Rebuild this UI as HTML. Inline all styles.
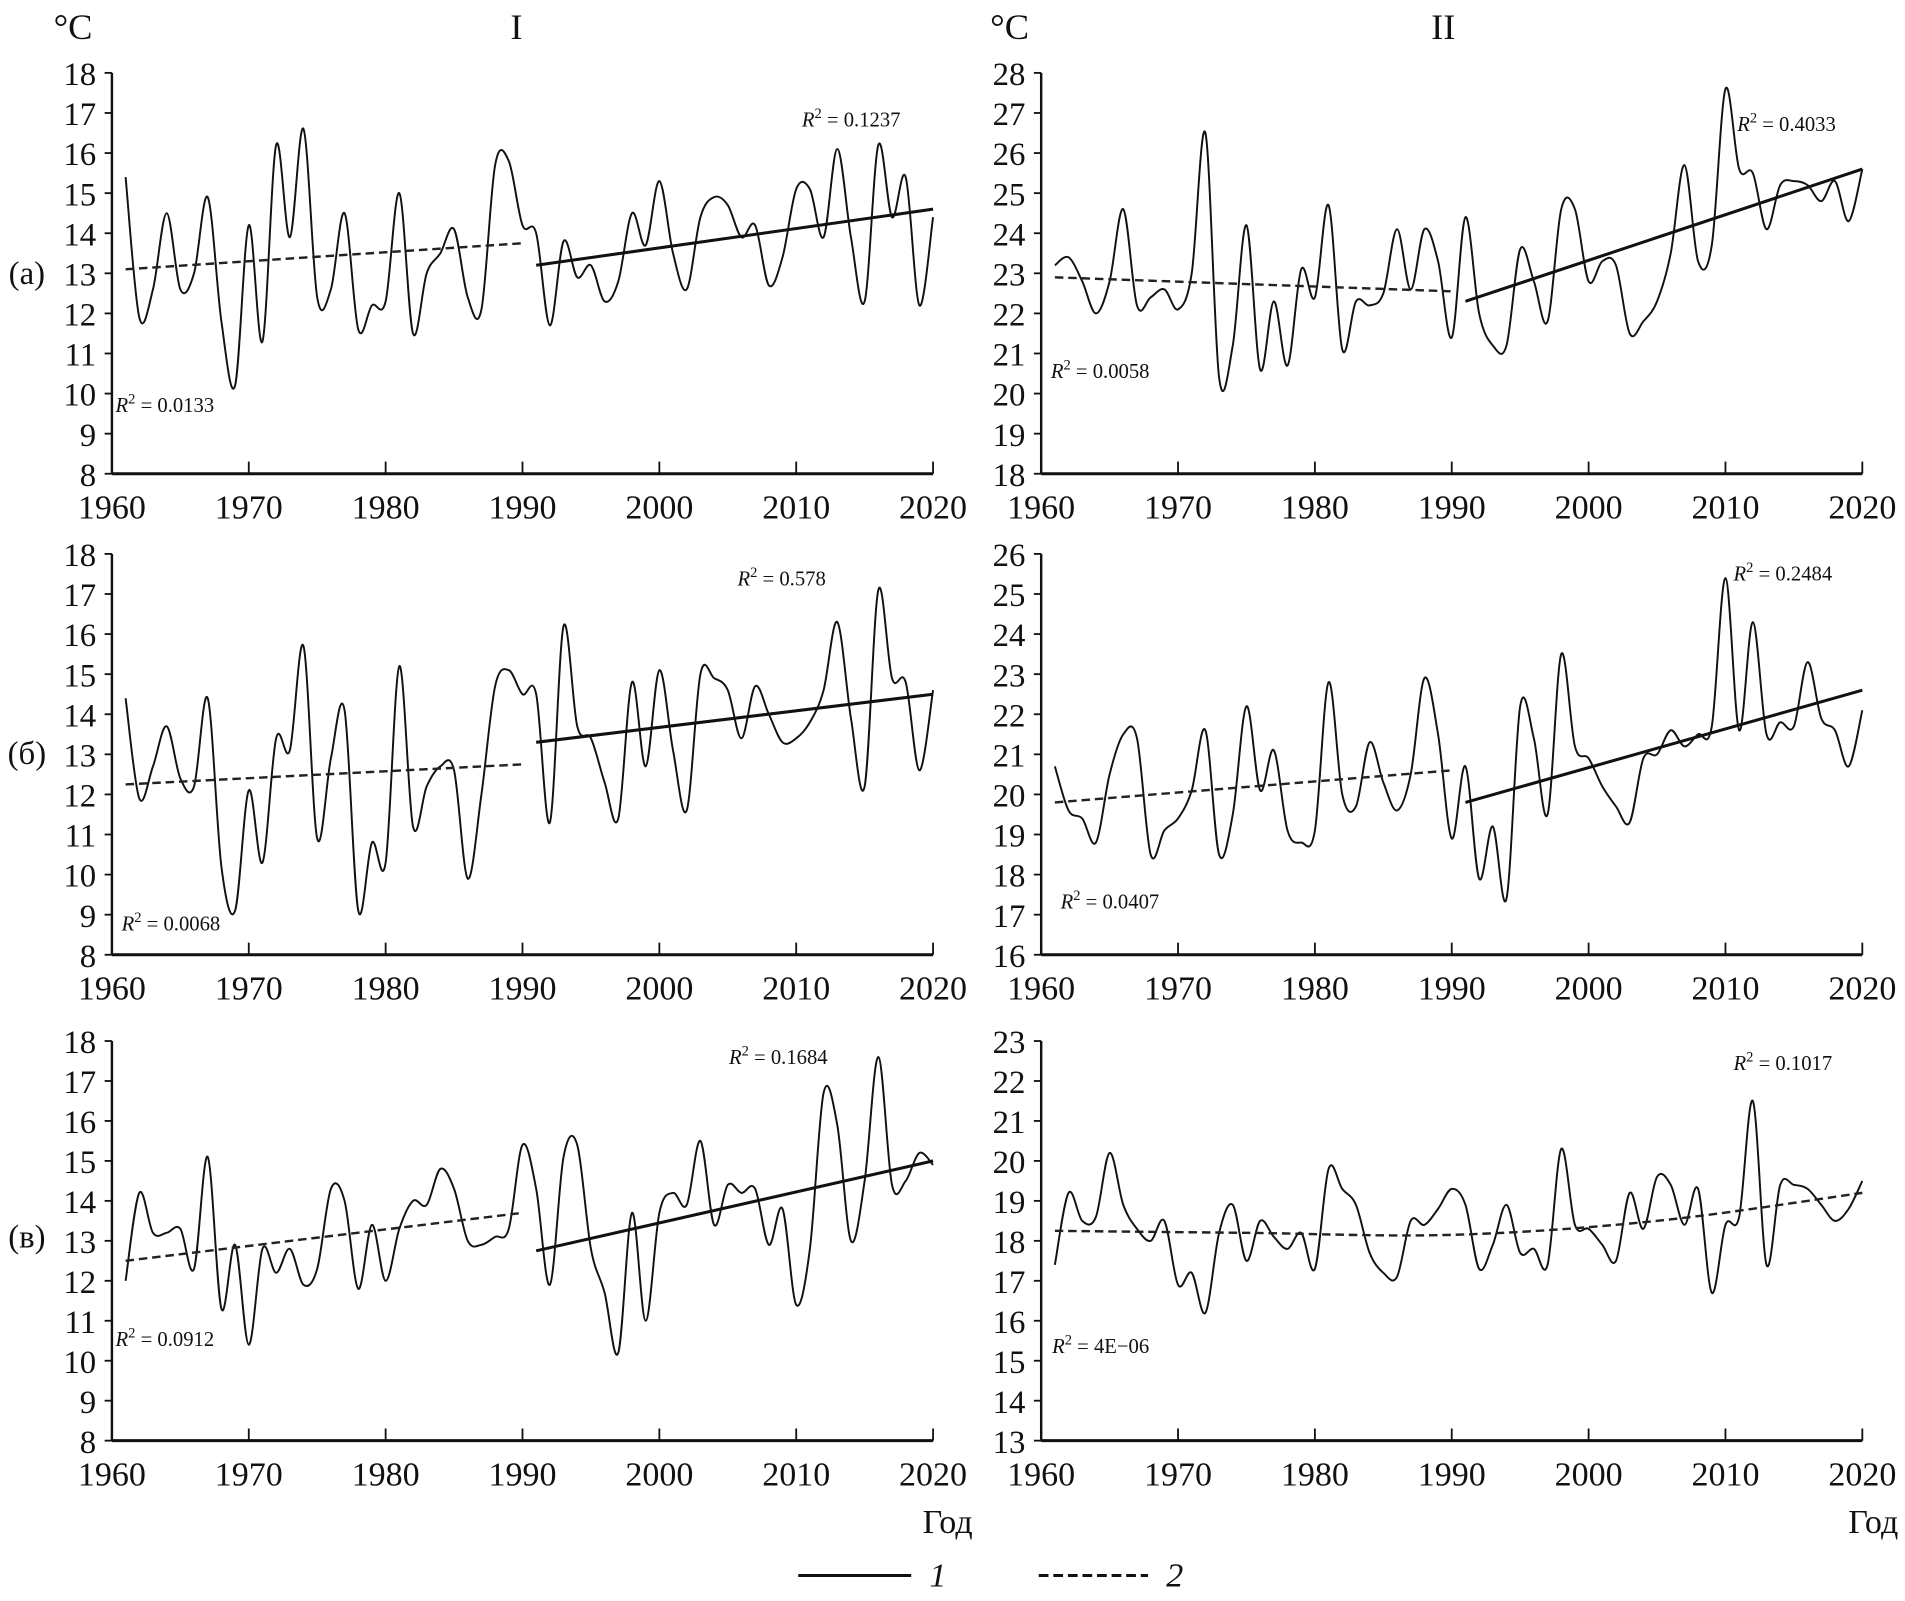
<!DOCTYPE html>
<html><head><meta charset="utf-8"><style>
html,body{margin:0;padding:0;background:#fff}
svg{display:block}
text{font-family:"Liberation Serif",serif;fill:#111}
</style></head><body>
<svg id="chart" width="1905" height="1601" viewBox="0 0 1568 1318" xmlns="http://www.w3.org/2000/svg"></svg>
<script>
const years = [];
for (let y = 1961; y <= 2020; y++) years.push(y);
const xTicks = [1960,1970,1980,1990,2000,2010,2020];

const seriesIa = [15.4,11.9,12.6,14.5,12.6,13.0,14.9,11.8,10.2,14.2,11.3,16.2,13.9,16.6,12.4,12.6,14.5,11.6,12.2,12.3,15.0,11.5,13.0,13.5,14.1,12.4,12.1,15.7,15.8,14.2,14.0,11.7,13.8,12.9,13.2,12.3,12.8,14.5,13.7,15.3,13.5,12.6,14.4,14.9,14.7,13.9,14.2,12.7,13.4,15.1,15.1,13.9,16.1,13.9,12.3,16.2,14.4,15.4,12.2,14.4];
const seriesIIa = [23.2,23.4,22.8,22.0,22.8,24.6,22.2,22.4,22.6,22.1,23.0,26.5,20.4,21.2,24.2,20.6,22.3,20.7,23.1,22.4,24.7,21.1,22.3,22.2,22.5,24.1,22.6,24.1,23.3,21.4,24.4,22.0,21.2,21.2,23.6,22.8,21.8,24.6,24.6,22.8,23.3,23.2,21.5,21.8,22.3,23.5,25.7,23.3,23.7,27.6,25.6,25.5,24.1,25.2,25.3,25.2,24.8,25.3,24.3,25.6];
const seriesIb = [14.4,11.9,12.7,13.7,12.4,12.2,14.4,10.2,9.1,12.1,10.3,13.4,13.1,15.7,10.9,12.9,14.1,9.1,10.8,10.3,15.2,11.2,12.2,12.7,12.6,9.9,12.0,14.7,15.1,14.5,14.5,11.3,16.2,13.7,13.4,12.3,11.4,14.8,12.7,15.1,13.1,11.6,15.0,14.9,14.6,13.4,14.7,14.0,13.3,13.4,13.8,14.6,16.3,13.9,12.2,17.1,14.9,14.8,12.6,14.6];
const seriesIIb = [20.7,19.6,19.4,18.8,20.5,21.5,21.4,18.5,19.1,19.4,20.1,21.6,18.5,19.5,22.2,20.1,21.1,19.1,18.8,19.1,22.8,20.0,19.7,21.3,20.3,19.6,20.5,22.9,21.5,18.9,20.7,17.9,19.2,17.4,22.2,21.4,19.5,23.5,21.2,20.9,20.2,19.7,19.3,20.9,21.0,21.6,21.2,21.5,21.7,25.4,21.6,24.3,21.5,21.8,21.7,23.3,21.9,21.6,20.7,22.1];
const seriesIv = [12.0,14.2,13.2,13.2,13.3,12.3,15.1,11.3,12.9,10.4,12.8,12.2,12.8,11.9,12.3,14.3,14.0,11.8,13.4,12.0,13.3,14.0,13.9,14.8,14.3,13.0,12.9,13.1,13.3,15.4,14.3,11.9,15.1,15.4,12.8,11.7,10.2,13.7,11.0,13.7,14.2,13.9,15.5,13.4,14.4,14.2,14.3,12.9,13.8,11.4,12.8,16.7,15.9,13.0,14.5,17.6,14.4,14.5,15.2,14.9];
const seriesIIv = [17.4,19.2,18.5,18.6,20.2,18.9,18.3,18.0,18.5,16.9,17.2,16.2,18.2,18.9,17.5,18.5,18.1,17.8,18.2,17.3,19.8,19.3,18.9,17.7,17.2,17.1,18.5,18.4,18.8,19.3,18.9,17.3,17.9,18.9,17.7,17.8,17.4,20.3,18.4,18.3,17.9,17.5,19.2,18.3,19.6,19.4,18.4,19.3,16.7,18.4,18.6,21.5,17.4,19.4,19.4,19.3,18.9,18.5,18.8,19.5];

const trendIaDash = [[1961,13.1],[1990,13.75]];
const trendIaSolid = [[1991,13.2],[2020,14.6]];
const trendIIaDash = [[1961,22.9],[1990,22.55]];
const trendIIaSolid = [[1991,22.3],[2020,25.6]];
const trendIbDash = [[1961,12.25],[1990,12.75]];
const trendIbSolid = [[1991,13.3],[2020,14.5]];
const trendIIbDash = [[1961,19.8],[1990,20.6]];
const trendIIbSolid = [[1991,19.8],[2020,22.6]];
const trendIvDash = [[1961,12.5],[1990,13.7]];
const trendIvSolid = [[1991,12.75],[2020,15.0]];
const trendIIvDash = [[1961,18.25],[1975,18.2],[1990,18.15],[2005,18.5],[2020,19.2]];

const panels = [
 {id:'Ia', x0:92, x1:768, yTop:60, yBot:390, vmin:8, vmax:18, s:seriesIa, dash:trendIaDash, solid:trendIaSolid, r1:['0.0133',95,333], r2:['0.1237',660,98]},
 {id:'IIa', x0:857, x1:1533, yTop:60, yBot:390, vmin:18, vmax:28, s:seriesIIa, dash:trendIIaDash, solid:trendIIaSolid, r1:['0.0058',865,305], r2:['0.4033',1430,102]},
 {id:'Ib', x0:92, x1:768, yTop:456, yBot:786, vmin:8, vmax:18, s:seriesIb, dash:trendIbDash, solid:trendIbSolid, r1:['0.0068',100,760], r2:['0.578',607,476]},
 {id:'IIb', x0:857, x1:1533, yTop:456, yBot:786, vmin:16, vmax:26, s:seriesIIb, dash:trendIIbDash, solid:trendIIbSolid, r1:['0.0407',873,742], r2:['0.2484',1427,472]},
 {id:'Iv', x0:92, x1:768, yTop:857, yBot:1186, vmin:8, vmax:18, s:seriesIv, dash:trendIvDash, solid:trendIvSolid, r1:['0.0912',95,1102], r2:['0.1684',600,870]},
 {id:'IIv', x0:857, x1:1533, yTop:857, yBot:1186, vmin:13, vmax:23, s:seriesIIv, dash:trendIIvDash, solid:null, r1:['4E\u221206',866,1108], r2:['0.1017',1427,875]}
];

const svg = document.getElementById('chart');
const NS = 'http://www.w3.org/2000/svg';
function mk(tag, attrs, parent){ const e=document.createElementNS(NS,tag); for(const k in attrs) e.setAttribute(k,attrs[k]); (parent||svg).appendChild(e); return e; }
function txt(str, attrs, parent){ const e=mk('text',attrs,parent); e.textContent=str; return e; }

function spline(pts){
  let d='M'+pts[0][0].toFixed(2)+','+pts[0][1].toFixed(2);
  for(let i=0;i<pts.length-1;i++){
    const p0=pts[i-1]||pts[i], p1=pts[i], p2=pts[i+1], p3=pts[i+2]||p2;
    const c1=[p1[0]+(p2[0]-p0[0])/6, p1[1]+(p2[1]-p0[1])/6];
    const c2=[p2[0]-(p3[0]-p1[0])/6, p2[1]-(p3[1]-p1[1])/6];
    d+=' C'+c1[0].toFixed(2)+','+c1[1].toFixed(2)+' '+c2[0].toFixed(2)+','+c2[1].toFixed(2)+' '+p2[0].toFixed(2)+','+p2[1].toFixed(2);
  }
  return d;
}

panels.forEach(p=>{
  const g = mk('g',{});
  
  
  const X = yr => p.x0 + (yr-1960)/60*(p.x1-p.x0);
  const Y = v => p.yBot - (v-p.vmin)/(p.vmax-p.vmin)*(p.yBot-p.yTop);
  const ya = mk('line',{x1:p.x0,y1:p.yTop,x2:p.x0,y2:p.yBot,stroke:'#111','stroke-width':2},g);
  
  
  const xa = mk('line',{x1:p.x0,y1:p.yBot,x2:p.x1,y2:p.yBot,stroke:'#111','stroke-width':2.5},g);
  
  
  for(let v=p.vmin; v<=p.vmax; v++){
    mk('line',{x1:p.x0-6,y1:Y(v),x2:p.x0,y2:Y(v),stroke:'#111','stroke-width':1.5},g);
    const t = txt(String(v),{x:p.x0-13,y:Y(v)+10,'font-size':27,'text-anchor':'end'},g);
    
    
  }
  xTicks.forEach(yr=>{
    mk('line',{x1:X(yr),y1:p.yBot,x2:X(yr),y2:p.yBot-10,stroke:'#111','stroke-width':1.5},g);
    const t = txt(String(yr),{x:X(yr),y:p.yBot+37,'font-size':28,'text-anchor':'middle'},g);
    
    
  });
  const pts = p.s.map((v,i)=>[X(years[i]),Y(v)]);
  const ln = mk('path',{d:spline(pts),fill:'none',stroke:'#111','stroke-width':1.6},g);
  
  
  const dp = p.dash.map(q=>[X(q[0]),Y(q[1])]);
  const dl = mk('path',{d:p.dash.length>2?spline(dp):'M'+dp[0]+' L'+dp[1],fill:'none',stroke:'#222','stroke-width':2,'stroke-dasharray':'7,4'},g);
  
  
  if(p.solid){
    const sp = p.solid.map(q=>[X(q[0]),Y(q[1])]);
    const sl = mk('path',{d:'M'+sp[0]+' L'+sp[1],fill:'none',stroke:'#111','stroke-width':2.5},g);
    
    
  }
  [p.r1,p.r2].forEach(r=>{
    const t = mk('text',{x:r[1],y:r[2]+6,'font-size':17},g);
    
    
    t.innerHTML = '<tspan font-style="italic">R</tspan><tspan dy="-7" font-size="12">2</tspan><tspan dy="7"> = '+r[0]+'</tspan>';
  });
});

function label(s,x,y,size,name,anchor){
  const t = txt(s,{x:x,y:y,'font-size':size,'text-anchor':anchor||'middle'});
  
  
}
label('°C',60,32,30,'y-unit-left');
label('I',425,32,30,'column-title-I');
label('°C',831,32,30,'y-unit-right');
label('II',1188,32,30,'column-title-II');
label('(а)',22,234,27,'row-label-a');
label('(б)',22,629,27,'row-label-b');
label('(в)',22,1027,27,'row-label-v');
label('Год',780,1262,28,'x-axis-title-left');
label('Год',1542,1262,28,'x-axis-title-right');
const lg = mk('g',{});


mk('line',{x1:657,y1:1297,x2:750,y2:1297,stroke:'#111','stroke-width':2.5},lg);
const l1 = txt('1',{x:765,y:1306,'font-size':28,'font-style':'italic'},lg);


mk('line',{x1:855,y1:1297,x2:945,y2:1297,stroke:'#111','stroke-width':2.5,'stroke-dasharray':'8,4'},lg);
const l2 = txt('2',{x:960,y:1306,'font-size':28,'font-style':'italic'},lg);


</script>
</body></html>
